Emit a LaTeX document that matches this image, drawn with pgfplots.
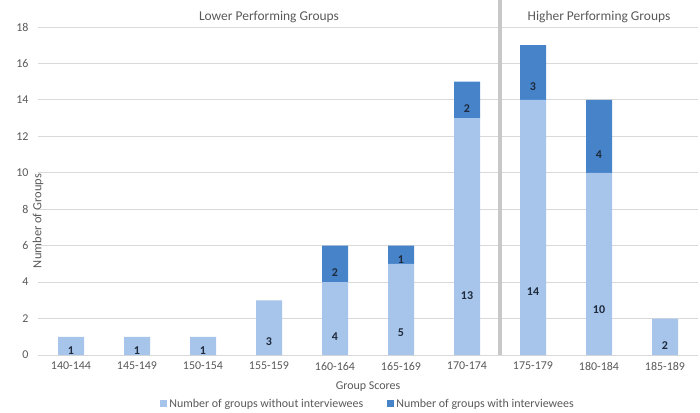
\documentclass[border=0pt]{standalone}
\usepackage{pgfplots}
\pgfplotsset{compat=1.18}
\usepackage{pgfplotstable}
\usepackage{fontspec}
\setmainfont{Carlito}
\definecolor{lightbar}{HTML}{A7C5EA}
\definecolor{darkbar}{HTML}{4683C9}
\definecolor{labtxt}{HTML}{1F2A3C}
\definecolor{axtxt}{HTML}{595959}
\definecolor{gridc}{HTML}{D9D9D9}
\definecolor{divc}{HTML}{C8C8C8}

\pgfplotstableread{
x y lab
0 1 1
1 1 1
2 1 1
3 3 3
4 4 4
5 5 5
6 13 13
7 14 14
8 10 10
9 2 2
}\without
\pgfplotstableread{
x y lab
0 0 {}
1 0 {}
2 0 {}
3 0 {}
4 2 2
5 1 1
6 2 2
7 3 3
8 4 4
9 0 {}
}\with

\begin{document}
\begin{tikzpicture}
\useasboundingbox (-38bp,-58bp) rectangle (662bp,355bp);
\begin{axis}[
  at={(0,0)}, anchor=south west,
  scale only axis, width=660bp, height=328bp,
  ybar stacked, bar width=26bp,
  xmin=-0.5, xmax=9.5, ymin=0, ymax=18,
  ytick={0,2,...,18},
  xtick={0,...,9},
  xticklabels={140-144,145-149,150-154,155-159,160-164,165-169,170-174,175-179,180-184,185-189},
  axis line style={draw=none},
  major tick length=0pt,
  ymajorgrids, grid style={gridc, line width=0.8bp},
  clip=false,
  /pgf/number format/assume math mode=true,
  tick label style={font=\fontsize{12}{14}\selectfont, text=axtxt},
  x tick label style={yshift=-3.5bp},
  y tick label style={xshift=-6bp},
  xlabel={Group Scores},
  ylabel={Number of Groups},
  xlabel style={at={(axis description cs:0.5,0)}, anchor=center, yshift=-32bp, font=\fontsize{12}{14}\selectfont, text=axtxt},
  ylabel style={at={(axis description cs:0,0.5)}, anchor=center, xshift=-30bp, font=\fontsize{12.5}{14}\selectfont, text=axtxt},
  legend style={at={(0.5,-0.149)}, anchor=center, draw=none, fill=none,
    legend columns=2, font=\fontsize{12}{14}\selectfont, text=axtxt,
    /tikz/every even column/.append style={column sep=22bp},
    legend cell align=left},
  legend image code/.code={\fill[#1] (0bp,-3.5bp) rectangle (7bp,3.5bp);},
  point meta=explicit symbolic,
  visualization depends on={rawy \as \rawy},
  nodes near coords,
  every node near coord/.append style={anchor=center, yshift=-\rawy*4.5556bp,
     font=\bfseries\fontsize{12}{14}\selectfont, text=labtxt},
]
\addplot[fill=lightbar, draw=none] table[x=x, y=y, meta=lab] {\without};
\addlegendentry{Number of groups without interviewees}
\addplot[fill=darkbar, draw=none] table[x=x, y=y, meta=lab] {\with};
\addlegendentry{Number of groups with interviewees}
\draw[divc, line width=3.5bp] (axis cs:6.5,0) -- (axis cs:6.5,19.48);
\node[font=\fontsize{13.5}{15}\selectfont, text=axtxt] at (axis cs:3,18.55) {Lower Performing Groups};
\node[font=\fontsize{13.5}{15}\selectfont, text=axtxt] at (axis cs:8,18.55) {Higher Performing Groups};
\end{axis}
\end{tikzpicture}
\end{document}
